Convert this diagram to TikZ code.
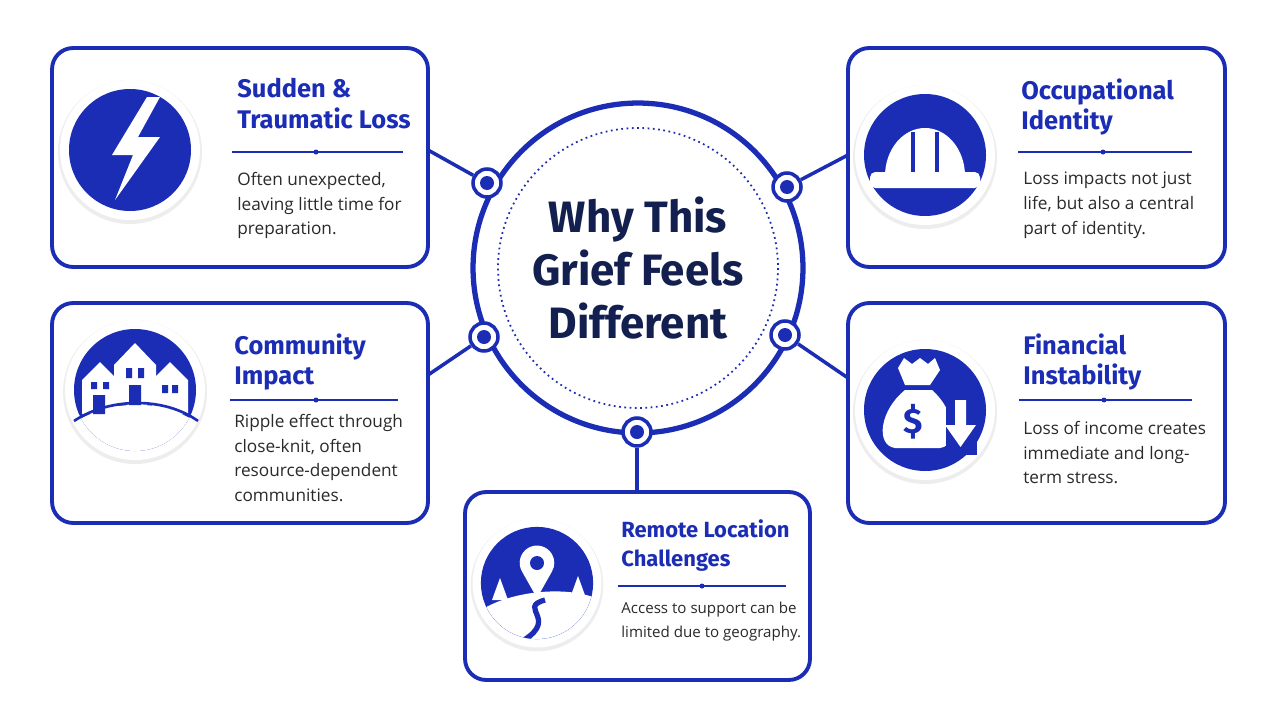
\documentclass[tikz,border=0pt]{standalone}
\usepackage{fontspec}
\setmainfont{Fira Sans}
\newfontfamily\bodyf{Open Sans}
\begin{document}
\definecolor{bl}{HTML}{1B2DB5}
\definecolor{navy}{HTML}{13204F}
\definecolor{txt}{HTML}{2A2A2A}
\begin{tikzpicture}[x=0.02cm,y=-0.02cm,
 box/.style={draw=bl,line width=2.2pt,rounded corners=12pt,fill=white},
 ttl/.style={anchor=north west,align=left,text=bl,font=\fontsize{14.5}{17.5}\selectfont\bfseries,inner sep=0},
 bod/.style={anchor=north west,align=left,text=txt,font=\bodyf\fontsize{9.8}{14}\selectfont,inner sep=0},
 sep/.style={draw=bl,line width=0.9pt},
 link/.style={draw=bl,line width=2pt},
 hub/.style={circle,draw=bl,line width=2pt,fill=white,minimum size=0.56cm,inner sep=0}]
\fill[white] (0,0) rectangle (1280,720);
\useasboundingbox (0,0) rectangle (1280,720);
% center
\node (c) [circle,draw=bl,line width=3pt,minimum size=6.6cm,fill=white] at (638,268) {};
\draw[bl,line width=1pt,dotted] (638,268) circle[radius=140];
\node[text=navy,font=\fontsize{25}{30}\selectfont\bfseries,align=center] at (638,268) {Why This\\Grief Feels\\Different};
% boxes
\node (b1) [box,minimum width=7.52cm,minimum height=4.38cm] at (240,157.5) {};
\node (b2) [box,minimum width=7.54cm,minimum height=4.38cm] at (1036.5,157.5) {};
\node (b3) [box,minimum width=7.52cm,minimum height=4.4cm] at (240,413) {};
\node (b4) [box,minimum width=7.54cm,minimum height=4.4cm] at (1036.5,413) {};
\node (b5) [box,minimum width=6.9cm,minimum height=3.76cm] at (637.5,586) {};
% hubs
\node (h1) [hub] at (487,183) {};
\node (h2) [hub] at (787,187) {};
\node (h3) [hub] at (484,337) {};
\node (h4) [hub] at (785,335) {};
\node (h5) [hub] at (637,432) {};
\foreach \h in {h1,h2,h3,h4,h5} \fill[bl] (\h) circle[radius=7];
\coordinate (e1) at (428,150); \coordinate (e2) at (848,155);
\coordinate (e3) at (428,375); \coordinate (e4) at (848,378);
\coordinate (e5) at (637,492);
\draw[link] (h1) -- (e1); \draw[link] (h2) -- (e2); \draw[link] (h3) -- (e3);
\draw[link] (h4) -- (e4); \draw[link] (h5) -- (e5);
% icon circles
\foreach \x/\y/\s in {130/150/1, 925/155/1, 135/390/1, 925/410/1, 537/583/0.92}{
 \fill[black!7] (\x,\y+2) circle[radius=72*\s];
 \fill[white] (\x,\y) circle[radius=70*\s];
 \fill[bl] (\x,\y) circle[radius=61*\s];
}
% lightning
\fill[white] (147,97)--(112,155)--(133,155)--(115,200)--(160,137)--(138,137)--(160,97)--cycle;
% hard hat
\fill[white] (885,176) arc[start angle=180,end angle=360,x radius=40,y radius=48] -- cycle;
\fill[white,rounded corners=3pt] (870,172) rectangle (980,188);
\draw[bl,line width=2.5pt] (913,132) -- (913,172) (937,132)--(937,172);
% houses
\begin{scope}
\clip (135,390) circle[radius=61];
\fill[white] (70,425) .. controls (110,398) and (165,398) .. (200,425) -- (200,460) -- (70,460) -- cycle;
\end{scope}
\begin{scope}[white]
\fill (82,414)--(82,380)--(100,362)--(118,380)--(118,414)--cycle;
\fill (114,405)--(114,365)--(135,343)--(156,365)--(156,405)--cycle;
\fill (152,414)--(152,380)--(170,362)--(188,380)--(188,414)--cycle;
\end{scope}
\fill[bl] (93,395) rectangle (105,414) (126,368) rectangle (132,378) (138,368) rectangle (144,378) (129,385) rectangle (141,405) (162,385) rectangle (168,393) (172,385) rectangle (178,393) (91,382) rectangle (97,389) (103,382) rectangle (109,389);
\draw[bl,line width=1.5pt] (74,421) .. controls (110,397) and (165,397) .. (198,421);
% money bag
\fill[white] (898,368)--(904,358)--(912,364)--(920,358)--(928,364)--(935,358)--(940,370)--(930,385)--(905,385)--cycle;
\fill[white] (905,390) .. controls (880,410) and (875,445) .. (895,448) -- (940,448) .. controls (960,445) and (955,410) .. (932,390) -- cycle;
\node[text=bl,font=\fontsize{20}{20}\selectfont\bfseries] at (913,422) {\$};
\fill[bl] (946,403) rectangle (977,455);
\fill[white] (955,400)--(966,400)--(966,425)--(976,425)--(960.5,447)--(945,425)--(955,425)--cycle;
% location
\begin{scope}
\clip (537,583) circle[radius=56];
\fill[white] (478,612) .. controls (510,590) and (570,585) .. (600,600) -- (600,650) -- (478,650) -- cycle;
\draw[bl,line width=3pt] (545,600) .. controls (515,608) and (565,620) .. (515,645);
\end{scope}
\fill[white] (537,598) -- (522,571.5) arc[start angle=150,end angle=390,radius=17.3] -- cycle;
\fill[bl] (537,563) circle[radius=7];
\fill[white] (500,578)--(492,600)--(508,600)--cycle (578,576)--(570,598)--(586,598)--cycle;
% texts
\node (t1) [ttl] at (237,78) {Sudden \&\\Traumatic Loss};
\draw[sep] (232,152) -- (403,152); \fill[bl] (316,152) circle[radius=2.5];
\node (d1) [bod] at (237,172) {Often unexpected,\\leaving little time for\\preparation.};
\node (t2) [ttl] at (1021,78) {Occupational\\Identity};
\draw[sep] (1018,152) -- (1192,152); \fill[bl] (1103,152) circle[radius=2.5];
\node (d2) [bod] at (1023,172) {Loss impacts not just\\life, but also a central\\part of identity.};
\node (t3) [ttl] at (234,333) {Community\\Impact};
\draw[sep] (230,400) -- (398,400); \fill[bl] (316,400) circle[radius=2.5];
\node (d3) [bod] at (234,414) {Ripple effect through\\close-knit, often\\resource-dependent\\communities.};
\node (t4) [ttl] at (1023,333) {Financial\\Instability};
\draw[sep] (1019,400) -- (1192,400); \fill[bl] (1104,400) circle[radius=2.5];
\node (d4) [bod] at (1023,421) {Loss of income creates\\immediate and long-\\term stress.};
\node (t5) [ttl,font=\fontsize{12.5}{16.5}\selectfont\bfseries] at (621,519) {Remote Location\\Challenges};
\draw[sep] (618,586) -- (786,586); \fill[bl] (702,586) circle[radius=2.5];
\node (d5) [bod,font=\bodyf\fontsize{8.6}{13.5}\selectfont] at (621,602) {Access to support can be\\limited due to geography.};
\end{tikzpicture}
\end{document}
